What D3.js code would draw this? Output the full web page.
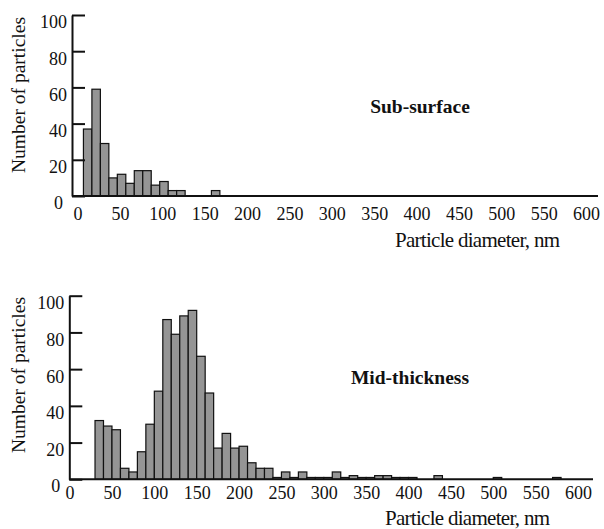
<!DOCTYPE html>
<html>
<head>
<meta charset="utf-8">
<script src="https://cdn.jsdelivr.net/npm/d3@7"></script>
<style>
  body { margin: 0; background: #fff; }
  text { font-family: "Liberation Serif", "Times New Roman", serif; fill: #111; }
</style>
</head>
<body>
<div class="main"></div>
<script>
// bin lower edges (nm), bin width 10 nm, and counts
var topBins = [7, 17, 27, 37, 47, 57, 67, 77, 87, 97, 107, 117, 158];
var topCounts = [37, 59, 29, 10, 12, 7, 14, 14, 6, 8, 3, 3, 3];

var midBins = [30, 40, 50, 60, 70, 80, 90, 100, 110, 120, 130, 140, 150, 160, 170, 180, 190,
    200, 210, 220, 230, 240, 250, 260, 270, 280, 290, 300, 310, 320, 330, 340, 350, 360, 370,
    380, 390, 400, 430, 500, 570];
var midCounts = [32, 29, 27, 6, 4, 15, 30, 48, 87, 79, 89, 92, 67, 47, 17, 25, 17,
    18, 9, 6, 6, 1, 4, 1, 4, 1, 1, 1, 4, 1, 2, 1, 1, 2, 2,
    1, 1, 1, 2, 1, 1];

var xTicks = [0, 50, 100, 150, 200, 250, 300, 350, 400, 450, 500, 550, 600];
var yTicks = [0, 20, 40, 60, 80, 100];
var binWidth = 10;

var svg = d3.select('.main')
    .append('svg')
    .attr('width', 604)
    .attr('height', 529);

function panel(opt) {
    var bins = opt.bins, counts = opt.counts;
    var x = d3.scaleLinear().domain([0, 600]).range(opt.xRange);
    var y = d3.scaleLinear().domain([0, 100]).range(opt.yRange);

    var g = svg.append('g');

    // bars
    g.selectAll('.bar')
        .data(bins)
        .enter()
        .append('rect')
        .attr('class', 'bar')
        .attr('x', function (d) { return x(d); })
        .attr('width', function (d) { return x(d + binWidth) - x(d); })
        .attr('y', function (d, i) { return y(counts[i]); })
        .attr('height', function (d, i) { return y(0) - y(counts[i]); })
        .style('fill', '#959595')
        .style('stroke', '#111')
        .style('stroke-width', '1.2px');

    // x axis: labels only, baseline drawn separately
    var xa = g.append('g')
        .attr('transform', 'translate(0,' + y(0) + ')')
        .call(d3.axisBottom(x).tickValues(xTicks).tickSize(0).tickPadding(opt.xPad));
    xa.select('.domain').remove();
    xa.selectAll('text').style('font-size', '18px');

    g.append('line')
        .attr('x1', opt.axisX)
        .attr('x2', opt.axisEnd)
        .attr('y1', y(0))
        .attr('y2', y(0))
        .style('stroke', '#111')
        .style('stroke-width', '2px');

    // y axis, ticks pointing inward
    var ya = g.append('g')
        .attr('transform', 'translate(' + opt.axisX + ',0)')
        .call(d3.axisLeft(y).tickValues(yTicks).tickSizeInner(-13).tickSizeOuter(0).tickPadding(6));
    ya.select('.domain').style('stroke', '#111').style('stroke-width', '2px');
    ya.selectAll('.tick line').style('stroke', '#111').style('stroke-width', '2px');
    ya.selectAll('text')
        .style('font-size', '18px')
        .attr('dy', function (d) { return d === 0 ? '0.68em' : '0.72em'; })
        .attr('x', function (d) { return d === 0 ? -9 : -5; });

    g.append('text')
        .attr('transform', 'translate(' + opt.yTitleX + ',' + opt.yTitleY + ') rotate(-90)')
        .attr('text-anchor', 'middle')
        .style('font-size', '19.5px')
        .text('Number of particles');

    g.append('text')
        .attr('x', opt.xTitleX)
        .attr('y', opt.xTitleY)
        .attr('textLength', 165)
        .style('font-size', '21px')
        .text('Particle diameter, nm');

    g.append('text')
        .attr('x', opt.labelX)
        .attr('y', opt.labelY)
        .attr('text-anchor', 'middle')
        .style('font-size', '19.5px')
        .style('font-weight', 'bold')
        .text(opt.label);
}

panel({
    bins: topBins, counts: topCounts,
    xRange: [77.5, 586], yRange: [196, 15],
    axisX: 72, axisEnd: 598, xPad: 11,
    yTitleX: 25, yTitleY: 95,
    xTitleX: 395, xTitleY: 247,
    label: 'Sub-surface', labelX: 420, labelY: 113
});

panel({
    bins: midBins, counts: midCounts,
    xRange: [69.6, 578], yRange: [479.3, 295.7],
    axisX: 69.3, axisEnd: 593, xPad: 7,
    yTitleX: 25, yTitleY: 375,
    xTitleX: 385, xTitleY: 525,
    label: 'Mid-thickness', labelX: 410, labelY: 384
});
</script>
</body>
</html>
